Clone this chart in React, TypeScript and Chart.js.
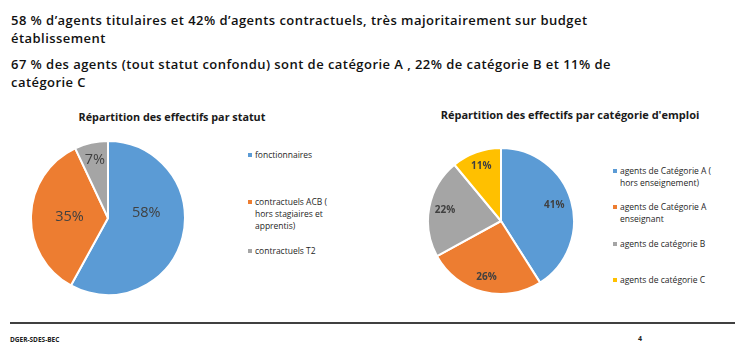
import React, { useEffect, useRef } from "react";
import { Chart, registerables } from "chart.js";

Chart.register(...registerables);

// ---------- Data ----------
const headerLines1 = [
  "58 % d\u2019agents titulaires et 42% d\u2019agents contractuels, très majoritairement sur budget",
  "établissement",
];
const headerLines2 = [
  "67 % des agents (tout statut confondu) sont de catégorie A , 22% de catégorie B et 11% de",
  "catégorie C",
];

const statutTitle = "Répartition des effectifs par statut";
const statutLabels: string[][] = [
  ["fonctionnaires"],
  ["contractuels ACB (", "hors stagiaires et", "apprentis)"],
  ["contractuels T2"],
];
const statutValues = [58, 35, 7];
const statutColors = ["#5B9BD5", "#ED7D31", "#A5A5A5"];

const categorieTitle = "Répartition des effectifs par catégorie d'emploi";
const categorieLabels: string[][] = [
  ["agents de Catégorie A (", "hors enseignement)"],
  ["agents de Catégorie A", "enseignant"],
  ["agents de catégorie B"],
  ["agents de catégorie C"],
];
const categorieValues = [41, 26, 22, 11];
const categorieColors = ["#5B9BD5", "#ED7D31", "#A5A5A5", "#FFC000"];

const footerLeft = "DGER-SDES-BEC";
const footerPage = "4";

const FONT = "'Open Sans', 'Noto Sans', sans-serif";

type PieProps = {
  values: number[];
  labels: string[][];
  colors: string[];
  labelFrac: number[];
  labelAngleShift: number[];
  labelFont: string;
  size: number;
};

function Pie({ values, labels, colors, labelFrac, labelAngleShift, labelFont, size }: PieProps) {
  const ref = useRef<HTMLCanvasElement | null>(null);
  useEffect(() => {
    if (!ref.current) return;
    const labelPlugin = {
      id: "pctLabels",
      afterDatasetsDraw(chart: any) {
        const ctx = chart.ctx;
        const meta = chart.getDatasetMeta(0);
        ctx.save();
        ctx.font = labelFont;
        ctx.fillStyle = "#404040";
        ctx.textAlign = "center";
        ctx.textBaseline = "middle";
        meta.data.forEach((arc: any, i: number) => {
          const p = arc.getProps(["x", "y", "startAngle", "endAngle", "outerRadius"], true);
          const mid = (p.startAngle + p.endAngle) / 2 + (labelAngleShift[i] * Math.PI) / 180;
          const r = p.outerRadius * labelFrac[i];
          ctx.fillText(values[i] + "%", p.x + Math.cos(mid) * r, p.y + Math.sin(mid) * r);
        });
        ctx.restore();
      },
    };
    const chart = new Chart(ref.current, {
      type: "pie",
      data: {
        labels: labels,
        datasets: [
          {
            data: values,
            backgroundColor: colors,
            borderColor: "#ffffff",
            borderWidth: 2,
          },
        ],
      },
      options: {
        responsive: false,
        animation: false,
        layout: { padding: 0 },
        plugins: {
          legend: { display: false },
          tooltip: { enabled: false },
        },
      },
      plugins: [labelPlugin],
    });
    return () => chart.destroy();
  }, []);
  return <canvas ref={ref} width={size} height={size} style={{ width: size, height: size, display: "block" }} />;
}

function Legend({ labels, colors, rowTops, left, top }: { labels: string[][]; colors: string[]; rowTops: number[]; left: number; top: number }) {
  return (
    <div style={{ position: "absolute", left, top }}>
      {labels.map((lines, i) => (
        <div key={i} style={{ position: "absolute", left: 0, top: rowTops[i], whiteSpace: "nowrap" }}>
          <div style={{ position: "absolute", left: 0, top: 4, width: 4, height: 4, background: colors[i] }} />
          <div style={{ position: "absolute", left: 7, top: 0, fontSize: 8.5, lineHeight: "12px", color: "#262626", fontFamily: FONT }}>
            {lines.map((l, j) => (
              <div key={j}>{l}</div>
            ))}
          </div>
        </div>
      ))}
    </div>
  );
}

export default function App() {
  useEffect(() => {
    document.body.style.margin = "0";
  }, []);
  const headerStyle: React.CSSProperties = {
    position: "absolute",
    left: 11,
    fontFamily: FONT,
    fontWeight: 600,
    fontSize: 13,
    letterSpacing: "0.45px",
    lineHeight: "18px",
    color: "#111111",
    whiteSpace: "nowrap",
  };
  return (
    <div style={{ position: "absolute", left: 0, top: 0, width: 735, height: 354, background: "#ffffff", overflow: "hidden" }}>
      <div style={{ ...headerStyle, top: 11 }}>
        {headerLines1.map((l, i) => (
          <div key={i}>{l}</div>
        ))}
      </div>
      <div style={{ ...headerStyle, top: 55 }}>
        {headerLines2.map((l, i) => (
          <div key={i}>{l}</div>
        ))}
      </div>

      <div style={{ position: "absolute", left: 52, top: 109, width: 240, textAlign: "center", fontFamily: FONT, fontWeight: 700, fontSize: 10.8, color: "#1a1a1a", whiteSpace: "nowrap" }}>
        {statutTitle}
      </div>
      <div style={{ position: "absolute", left: 107.5 - 78, top: 218 - 78 }}>
        <Pie values={statutValues} labels={statutLabels} colors={statutColors} labelFrac={[0.5, 0.5, 0.78]} labelAngleShift={[-22, 0, 0]} labelFont={`400 14.5px ${FONT}`} size={156} />
      </div>
      <Legend labels={statutLabels} colors={statutColors} rowTops={[0, 47, 96]} left={248} top={149} />

      <div style={{ position: "absolute", left: 430, top: 107, width: 280, textAlign: "center", fontFamily: FONT, fontWeight: 700, fontSize: 11, color: "#1a1a1a", whiteSpace: "nowrap" }}>
        {categorieTitle}
      </div>
      <div style={{ position: "absolute", left: 501 - 74, top: 221 - 74 }}>
        <Pie values={categorieValues} labels={categorieLabels} colors={categorieColors} labelFrac={[0.76, 0.8, 0.78, 0.8]} labelAngleShift={[0, 0, 0, 0]} labelFont={`700 10px ${FONT}`} size={148} />
      </div>
      <Legend labels={categorieLabels} colors={categorieColors} rowTops={[0, 36, 73, 109]} left={613} top={165} />

      <div style={{ position: "absolute", left: 10, top: 322, width: 725, height: 2, background: "#404040" }} />
      <div style={{ position: "absolute", left: 10, top: 335, fontFamily: FONT, fontWeight: 700, fontSize: 6.5, color: "#202020", whiteSpace: "nowrap" }}>
        {footerLeft}
      </div>
      <div style={{ position: "absolute", left: 638, top: 334, fontFamily: FONT, fontWeight: 700, fontSize: 7, color: "#202020" }}>
        {footerPage}
      </div>
    </div>
  );
}
